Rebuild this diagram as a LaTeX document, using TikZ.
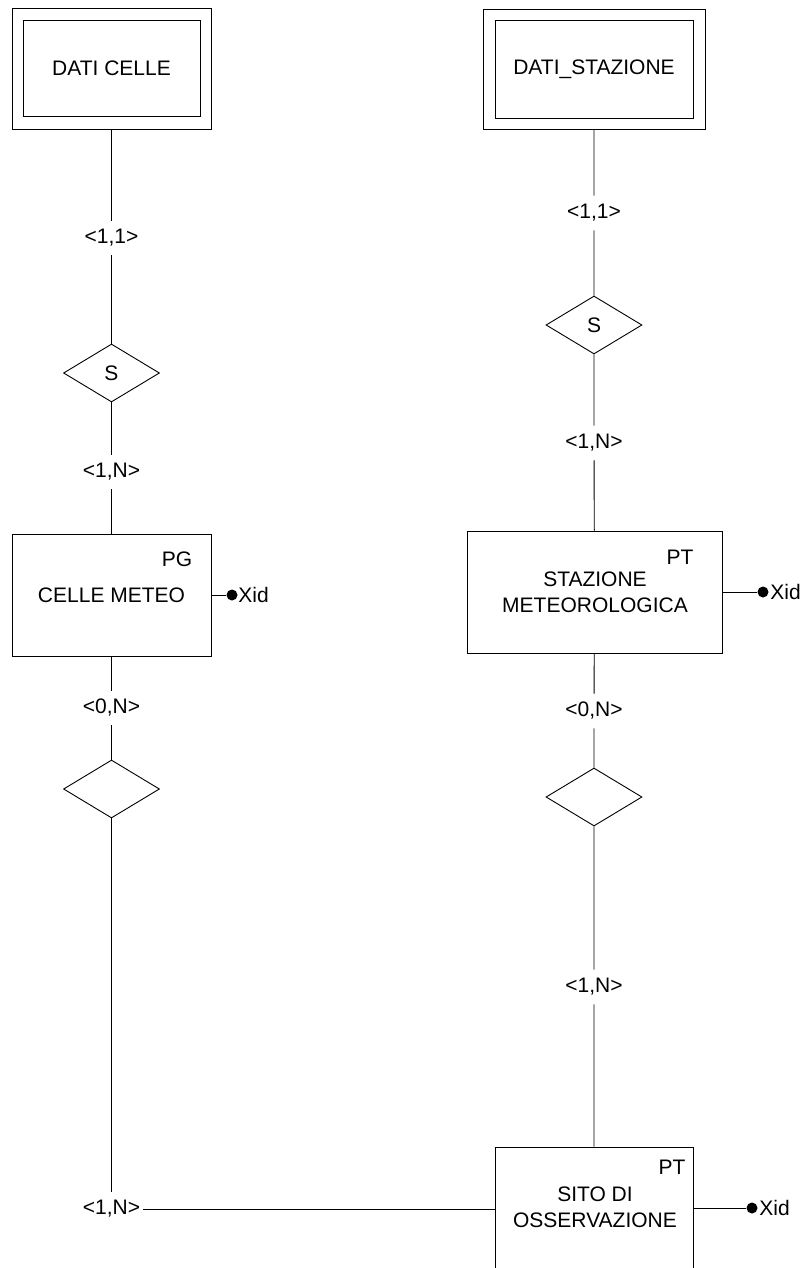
\documentclass[tikz,border=0pt]{standalone}
\usepackage{fontspec}
\setmainfont{Liberation Sans}
\usetikzlibrary{shapes.geometric}
\newcommand\dfont{\fontsize{21}{26}\selectfont}
\begin{document}
\begin{tikzpicture}[x=1pt,y=-1pt,line width=0.9pt,
  box/.style={draw,rectangle,inner sep=0pt},
  rel/.style={draw,diamond,aspect=1.66,inner sep=0pt,minimum width=96pt,minimum height=58pt,font=\dfont},
  card/.style={inner sep=0pt,minimum height=34pt,minimum width=62pt,font=\dfont},
  txt/.style={inner sep=0pt,font=\dfont,align=center},
  dotn/.style={circle,fill,inner sep=0pt,minimum size=11pt},
  attr/.style={inner sep=0pt,anchor=west,font=\dfont}]
\useasboundingbox (0,0) rectangle (806,1268);
\clip (0,0) rectangle (806,1268);
% top entities (double boxes)
\node[box,minimum width=199pt,minimum height=121pt] (dco) at (111.5,68.5) {};
\node[box,minimum width=177pt,minimum height=96pt,font=\dfont] (dc) at (111.5,68) {DATI CELLE};
\node[box,minimum width=222pt,minimum height=120pt] (dso) at (594,69) {};
\node[box,minimum width=198pt,minimum height=98pt,font=\dfont] (ds) at (594,69) {DATI\_STAZIONE};
% left column
\node[card] (c11L) at (111.5,238) {<1,1>};
\node[rel] (sL) at (111.5,373) {S};
\node[card] (c1NL) at (111.5,472) {<1,N>};
\node[box,minimum width=199pt,minimum height=122pt] (cm) at (111.5,595) {};
\node[txt] (cmt) at (111.5,595) {CELLE METEO};
\node[txt] (cmpg) at (177,559) {PG};
\node[dotn] (cmd) at (232,595) {};
\node[attr] (cmx) at (238,595) {Xid};
\node[card] (c0NL) at (111.5,708) {<0,N>};
\node[rel] (rL) at (111.5,789) {};
\node[card] (c1NB) at (111.5,1209) {<1,N>};
% right column
\node[card] (c11R) at (594,213) {<1,1>};
\node[rel] (sR) at (594,325) {S};
\node[card] (c1NR) at (594,443) {<1,N>};
\node[box,minimum width=255pt,minimum height=122pt] (st) at (594.5,592) {};
\node[txt] (stt) at (595,592.5) {STAZIONE\\METEOROLOGICA};
\node[txt] (stpt) at (680,557) {PT};
\node[dotn] (std) at (763,592) {};
\node[attr] (stx) at (770,592) {Xid};
\node[card] (c0NR) at (594,711) {<0,N>};
\node[rel] (rR) at (594,797) {};
\node[card] (c1NR2) at (594,987) {<1,N>};
\node[box,minimum width=198pt,minimum height=153pt] (sito) at (594,1223.5) {};
\node[txt] (sitot) at (595,1207.5) {SITO DI\\OSSERVAZIONE};
\node[txt] (sitopt) at (672,1167) {PT};
\node[dotn] (sitod) at (752,1208) {};
\node[attr] (sitox) at (759,1208) {Xid};
% connectors left
\draw (dco) -- (c11L) -- (sL) -- (c1NL) -- (cm) -- (c0NL) -- (rL) -- (c1NB);
\draw (c1NB) -- (c1NB -| sito.west);
\draw (cm.east |- cmd) -- (cmd);
% connectors right
\draw (dso) -- (c11R) -- (sR) -- (c1NR) -- (st) -- (c0NR) -- (rR) -- (c1NR2) -- (sito);
\draw (st.east |- std) -- (std);
\draw (sito.east |- sitod) -- (sitod);
\end{tikzpicture}
\end{document}
